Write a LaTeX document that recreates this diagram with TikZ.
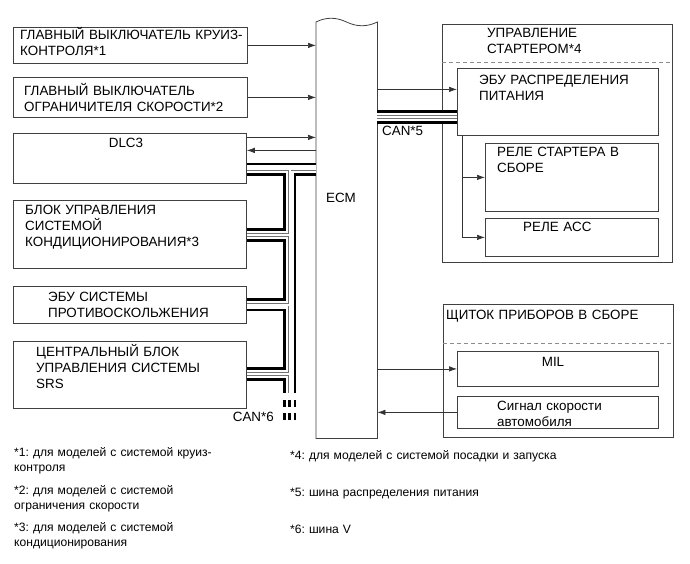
\documentclass[tikz,border=0pt]{standalone}
\usepackage{fontspec}
\setmainfont{Liberation Sans}
\frenchspacing
\usetikzlibrary{arrows.meta, calc, positioning}

\tikzset{
  box/.style={draw=black!75, line width=0.8pt, anchor=north west, inner sep=0pt},
  txt/.style={text width=230pt, align=left, inner sep=0pt, anchor=base west},
  note/.style={font=\fontsize{12.1}{15.5}\selectfont, text width=320pt, align=left, inner sep=0pt, anchor=base west},
  arr/.style={draw=black!80, line width=0.7pt, -{Latex[length=8pt,width=5.5pt]}},
  busout/.style={draw=black, line width=13.5pt},
  busin/.style={draw=white, line width=8pt},
  buswire/.style={draw=black!55, line width=0.6pt, double=white, double distance=2pt},
  sep/.style={draw=black!45, line width=0.7pt, dash pattern=on 4pt off 3pt},
}

\begin{document}
\begin{tikzpicture}[x=1pt, y=-1pt, font=\fontsize{13.4}{16}\selectfont]
    \useasboundingbox (0,0) rectangle (690,564);

    % units on the left
    \node[box, minimum width=234pt, minimum height=36pt] (cruise) at (13,27) {};
    \node[txt] (cruisetxt) at (20,39.8) {ГЛАВНЫЙ ВЫКЛЮЧАТЕЛЬ КРУИЗ-\\КОНТРОЛЯ*1};
    \node[box, minimum width=234pt, minimum height=40pt] (limiter) at (13,77) {};
    \node[txt] (limitertxt) at (24,95.3) {ГЛАВНЫЙ ВЫКЛЮЧАТЕЛЬ\\ОГРАНИЧИТЕЛЯ СКОРОСТИ*2};
    \node[box, minimum width=233pt, minimum height=50pt] (dlc) at (13,133) {};
    \node[anchor=base, inner sep=0pt] (dlctxt) at (126,147.8) {DLC3};
    \node[box, minimum width=233pt, minimum height=68pt] (hvac) at (13,200) {};
    \node[txt] (hvactxt) at (25,214.8) {БЛОК УПРАВЛЕНИЯ\\СИСТЕМОЙ\\КОНДИЦИОНИРОВАНИЯ*3};
    \node[box, minimum width=233pt, minimum height=37pt] (abs) at (13,286) {};
    \node[txt] (abstxt) at (48,301.8) {ЭБУ СИСТЕМЫ\\ПРОТИВОСКОЛЬЖЕНИЯ};
    \node[box, minimum width=233pt, minimum height=67pt] (srs) at (13,341) {};
    \node[txt] (srstxt) at (36,356.8) {ЦЕНТРАЛЬНЫЙ БЛОК\\УПРАВЛЕНИЯ СИСТЕМЫ\\SRS};

    % ECM
    \node[minimum width=61pt, minimum height=416pt, anchor=north west, inner sep=0pt] (ecm) at (316,22) {};
    \draw[draw=black!75, line width=0.8pt] (ecm.north west) .. controls (326,17) and (336,17) .. (346.5,22)
        .. controls (357,27) and (367,27) .. (ecm.north east) -- (ecm.south east) -- (ecm.south west) -- cycle;
    \node (ecmtxt) at (341,198) {ECM};

    % starter control
    \node[box, minimum width=230pt, minimum height=238pt] (startctl) at (442,24) {};
    \draw[sep] ([yshift=-38pt]startctl.north west) -- ([yshift=-38pt]startctl.north east);
    \node[txt] (startctltxt) at (487,37.8) {УПРАВЛЕНИЕ\\СТАРТЕРОМ*4};
    \node[box, minimum width=201pt, minimum height=67pt] (ebu) at (457,68) {};
    \node[txt] (ebutxt) at (479,84.8) {ЭБУ РАСПРЕДЕЛЕНИЯ\\ПИТАНИЯ};
    \node[box, minimum width=173pt, minimum height=68pt] (strelay) at (485,143) {};
    \node[txt] (strelaytxt) at (497,156.8) {РЕЛЕ СТАРТЕРА В\\СБОРЕ};
    \node[box, minimum width=173pt, minimum height=38pt] (accrelay) at (485,218) {};
    \node[txt] (accrelaytxt) at (523,231.8) {РЕЛЕ ACC};

    % combination meter
    \node[box, minimum width=230pt, minimum height=133pt] (meter) at (443,304) {};
    \draw[sep] ([yshift=-39pt]meter.north west) -- ([yshift=-39pt]meter.north east);
    \node[txt] (metertxt) at (446,319.8) {ЩИТОК ПРИБОРОВ В СБОРЕ};
    \node[box, minimum width=201pt, minimum height=35pt] (mil) at (457,351) {};
    \node[anchor=base, inner sep=0pt] (miltxt) at (553,366.8) {MIL};
    \node[box, minimum width=201pt, minimum height=32pt] (spd) at (457,396) {};
    \node[txt] (spdtxt) at (497,410.3) {Сигнал скорости\\автомобиля};

    % signals
    \coordinate (dlcout) at ([yshift=21pt]dlc.east);
    \coordinate (dlcin) at ([yshift=8pt]dlc.east);
    \coordinate (ebuin) at ([yshift=12.5pt]ebu.west);
    \coordinate (tap) at ([xshift=5pt]ebu.south west);
    \draw[arr] (cruise.east) -- (cruise.east -| ecm.west);
    \draw[arr] (limiter.east) -- (limiter.east -| ecm.west);
    \draw[arr] (dlcout) -- (dlcout -| ecm.west);
    \draw[arr] (dlcin -| ecm.west) -- (dlcin);
    \draw[arr] (ebuin -| ecm.east) -- (ebuin);
    \draw[arr] (tap) |- (strelay.west);
    \draw[arr] (tap) |- (accrelay.west);
    \draw[arr] (mil.west -| ecm.east) -- (mil.west);
    \draw[arr] (spd.west) -- (spd.west -| ecm.east);

    % CAN buses
    \coordinate (j1) at (289.5,169.5);
    \coordinate (j2) at (289.5,235);
    \coordinate (j3) at (289.5,304.5);
    \coordinate (j4) at (289.5,374);
    \coordinate (jend) at (289.5,393);
    \coordinate (c5) at (417,117);
    \foreach \sty in {busout,busin,buswire} {
        \draw[\sty] (j1 -| dlc.east) -- (j1 -| ecm.west) (j1) -- (jend)
            (j2 -| hvac.east) -- (j2) (j3 -| abs.east) -- (j3) (j4 -| srs.east) -- (j4);
        \draw[\sty] (c5 -| ecm.east) -- (c5 -| ebu.west);
    }
    \foreach \yy in {400,413}
        \foreach \xx in {283,288,293.5}
            \fill[black] (\xx,\yy) rectangle ++(2.7,6.5);
    \node[anchor=base east, inner sep=0pt] (can6) at (274,421) {CAN*6};
    \node[anchor=base west, inner sep=0pt] (can5) at (382,136) {CAN*5};

    % footnotes
    \node[note] (n1) at (14,456) {*1: для моделей с системой круиз-\\контроля};
    \node[note] (n2) at (14,494) {*2: для моделей с системой\\ограничения скорости};
    \node[note] (n3) at (14,531) {*3: для моделей с системой\\кондиционирования};
    \node[note] (n4) at (290,459) {*4: для моделей с системой посадки и запуска};
    \node[note] (n5) at (290,496) {*5: шина распределения питания};
    \node[note] (n6) at (290,533) {*6: шина V};
\end{tikzpicture}
\end{document}
